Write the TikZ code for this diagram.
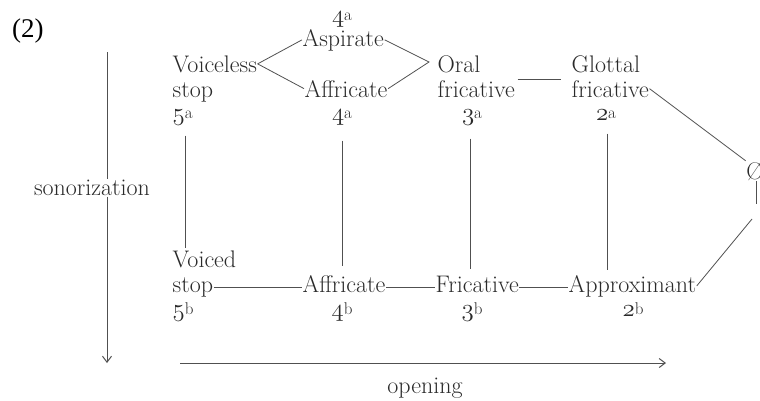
\documentclass[tikz,border=0pt]{standalone}
\usepackage{fontspec}
\newfontfamily\timesf{Liberation Serif}
\usetikzlibrary{arrows.meta}
\definecolor{ink}{HTML}{2a2a2a}
\definecolor{rule}{HTML}{505050}
\newcommand{\osn}[1]{{\usefont{OML}{cmm}{m}{it}#1}}
\newcommand{\nmb}[2]{\osn{#1}\raisebox{.15ex}{\fontsize{17}{17}\selectfont #2}}
\begin{document}
\begin{tikzpicture}[x=1pt,y=-1pt,
  txt/.style={inner sep=0.5pt, font=\fontsize{24}{26}\selectfont, text=ink},
  lbl/.style={txt, anchor=base west},
  num/.style={txt, anchor=base},
  conn/.style={draw=rule, line width=0.8pt},
  arr/.style={draw=rule, line width=1pt, -{Straight Barb[length=6pt,width=9pt]}}]
\useasboundingbox (0,0) rectangle (760,400);
\node[anchor=base west, inner sep=0pt, text=black, font=\timesf\fontsize{27}{29}\selectfont] (ex) at (12,37.5) {(2)};
% left column
\node[lbl] (vl) at (172,72) {Voiceless};
\node[lbl] (vls) at (172,97) {stop};
\node[lbl] (n5a) at (172,120) {\nmb{5}{a}};
\node[lbl] (vd) at (172,267) {Voiced};
\node[lbl] (vds) at (172,292) {stop};
\node[lbl] (n5b) at (172,316) {\nmb{5}{b}};
% 4 column
\node[num] (n4t) at (342,22) {\nmb{4}{a}};
\node[lbl] (asp) at (302,46) {Aspirate};
\node[lbl] (aff) at (304,97) {Affricate};
\node[num] (n4a) at (342,120) {\nmb{4}{a}};
\node[lbl] (affb) at (302,292) {Affricate};
\node[num] (n4b) at (342,316) {\nmb{4}{b}};
% 3 column
\node[lbl] (oral) at (437,72) {Oral};
\node[lbl] (ofr) at (437,97) {fricative};
\node[num] (n3a) at (472,120) {\nmb{3}{a}};
\node[lbl] (fricb) at (435,292) {Fricative};
\node[num] (n3b) at (472,316) {\nmb{3}{b}};
% 2 column
\node[lbl] (glot) at (571,72) {Glottal};
\node[lbl] (gfr) at (571,97) {fricative};
\node[num] (n2a) at (606,120) {\nmb{2}{a}};
\node[lbl] (appr) at (568,292) {Approximant};
\node[num] (n2b) at (633,316) {\nmb{2}{b}};
% zero
\node[txt] (zero) at (755,171) {\O};
\coordinate (zbar) at (756,204);
\coordinate (zlow) at (752,219);
\coordinate (dr) at (429,62);
\coordinate (bl) at (0,287);
% diamond
\draw[conn] (vl.east) -- (asp.west);
\draw[conn] (vl.east) -- (aff.west);
\draw[conn] (asp.east) -- (dr) -- (aff.east);
% top row links
\draw[conn, shorten <=2pt, shorten >=10pt] (ofr.north east) -- (gfr.north west);
\draw[conn] (gfr.east) -- (zero.north west);
\draw[conn] (zero.south -| zbar) -- (zbar);
\draw[conn] (appr.east) -- (zlow);
% verticals
\draw[conn] ([yshift=-10pt]n5a.south -| 185,0) -- ([yshift=2pt]vd.north -| 185,0);
\draw[conn] ([yshift=-15pt]n4a.south) -- ([yshift=8pt]n4a.south |- affb.north);
\draw[conn] ([yshift=-13pt]n3a.south -| 470,0) -- ([yshift=6pt]fricb.north -| 470,0);
\draw[conn] ([yshift=-13pt]n2a.south -| 607,0) -- ([yshift=4pt]appr.north -| 607,0);
% bottom row
\draw[conn] (vds.east |- bl) -- (affb.west |- bl);
\draw[conn] (affb.east |- bl) -- (fricb.west |- bl);
\draw[conn] (fricb.east |- bl) -- (appr.west |- bl);
% axes
\node[txt] (son) at (92,188) {sonorization};
\coordinate (sonTop) at (107,52);
\coordinate (sonBot) at (107,363);
\draw[conn, line width=1pt] (sonTop) -- (sonTop |- son.north);
\draw[arr] (sonTop |- son.south) -- (sonBot);
\coordinate (opL) at (180,363);
\coordinate (opR) at (666,363);
\draw[arr] (opL) -- (opR);
\node[txt, anchor=base] (open) at (425,393) {opening};
\end{tikzpicture}
\end{document}
